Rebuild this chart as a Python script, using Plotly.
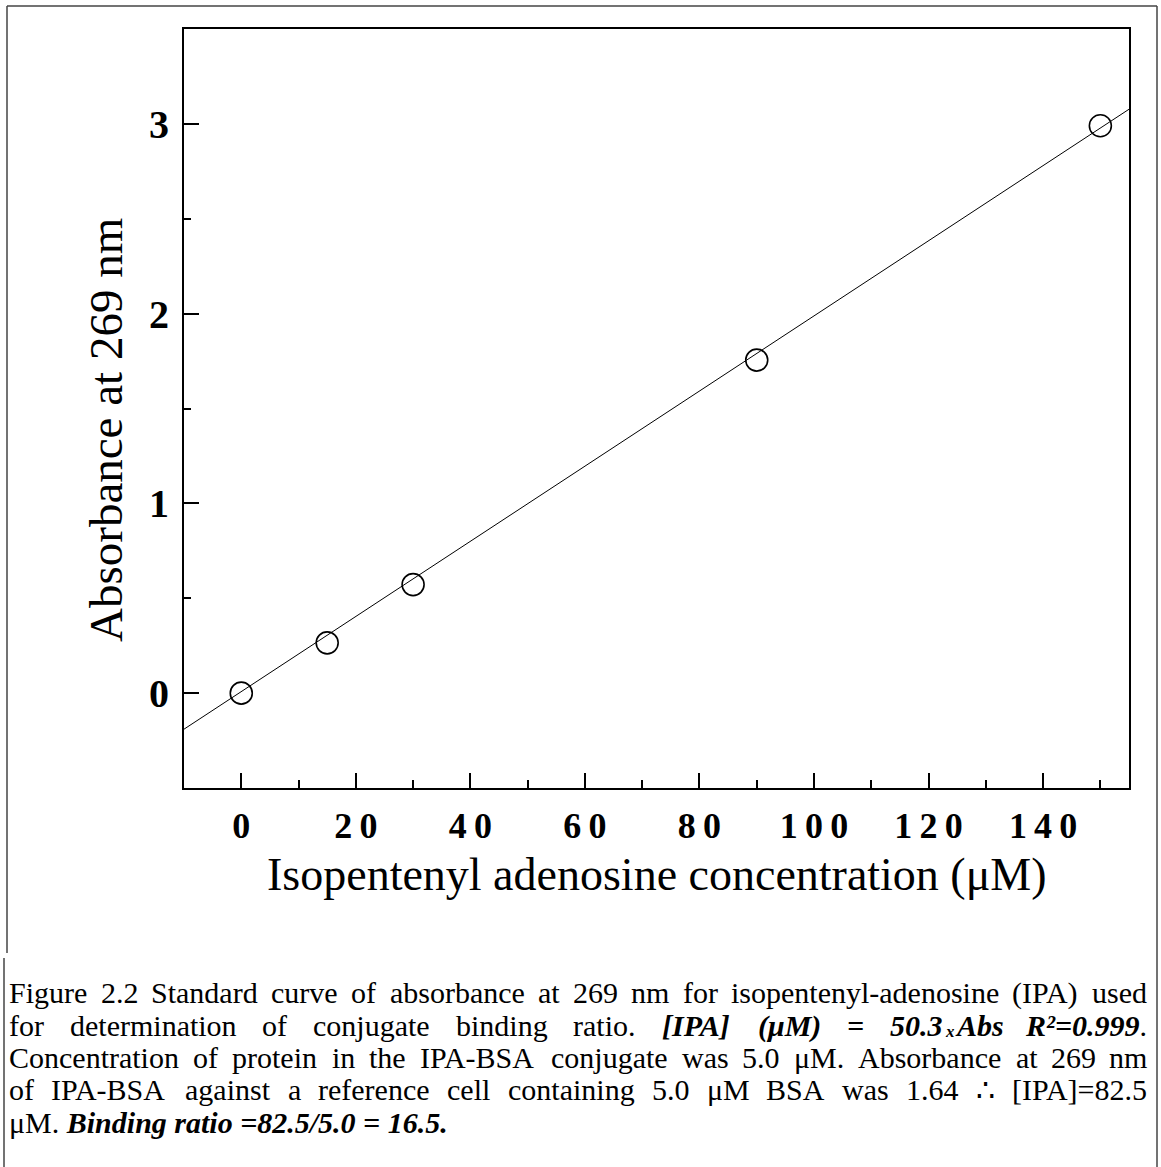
import plotly.graph_objects as go

# ---------------- data ----------------
conc_uM = [0, 15, 30, 90, 150]                 # Isopentenyl adenosine concentration (µM)
absorbance = [0.0, 0.265, 0.572, 1.755, 2.99]   # Absorbance at 269 nm
fit_slope = 0.0198                              # fitted line
fit_intercept = 0.008
fit_x_range = [-10, 155]

x_tick_vals = [0, 20, 40, 60, 80, 100, 120, 140]
x_tick_labels = ["0", "20", "40", "60", "80", "100", "120", "140"]
y_tick_vals = [0, 1, 2, 3]
y_tick_labels = ["0", "1", "2", "3"]

x_title = "Isopentenyl adenosine concentration (\u03bcM)"
y_title = "Absorbance at 269 nm"

# ---------------- geometry ----------------
W, H = 1161, 1167
L, R_, T, B = 184, 1129, 29, 788          # plot frame in pixels
PW, PH = R_ - L, B - T


def px(x):
    return (x - L) / PW


def py(y):
    return (B - y) / PH


FONT = "Liberation Serif"

fit_y = [fit_slope * x + fit_intercept for x in fit_x_range]

fig = go.Figure()
fig.add_trace(go.Scatter(x=fit_x_range, y=fit_y, mode="lines",
                         line=dict(color="black", width=1), showlegend=False,
                         hoverinfo="skip"))
fig.add_trace(go.Scatter(x=conc_uM, y=absorbance, mode="markers",
                         marker=dict(symbol="circle-open", size=22,
                                     line=dict(color="black", width=1.6), color="black"),
                         showlegend=False))

fig.update_xaxes(range=[-10, 155], showgrid=False, zeroline=False,
                 showline=True, mirror=True, linecolor="black", linewidth=2,
                 ticks="inside", ticklen=15, tickwidth=1.5, tickcolor="black",
                 tickvals=x_tick_vals,
                 ticktext=["\u2009".join(list(t)) for t in x_tick_labels],
                 tickfont=dict(family=FONT, size=36, color="black", weight="bold"),
                 ticklabelstandoff=5,
                 minor=dict(ticks="inside", ticklen=8, tickwidth=1.5, tickcolor="black",
                            tickvals=[10, 30, 50, 70, 90, 110, 130, 150]))
fig.update_yaxes(range=[-0.5, 3.5], showgrid=False, zeroline=False,
                 showline=True, mirror=True, linecolor="black", linewidth=2,
                 ticks="inside", ticklen=15, tickwidth=1.5, tickcolor="black",
                 tickvals=y_tick_vals, ticktext=y_tick_labels,
                 tickfont=dict(family=FONT, size=40, color="black", weight="bold"),
                 ticklabelstandoff=5,
                 minor=dict(ticks="inside", ticklen=7, tickwidth=1.5, tickcolor="black",
                            tickvals=[0.5, 1.5, 2.5]))

annotations = []
# axis titles
annotations.append(dict(x=px((L + R_) / 2), y=py(874), xref="paper", yref="paper",
                        text=x_title, showarrow=False, xanchor="center", yanchor="middle",
                        font=dict(family=FONT, size=46, color="black")))
annotations.append(dict(x=px(106), y=py(430), xref="paper", yref="paper",
                        text=y_title, showarrow=False, textangle=-90,
                        xanchor="center", yanchor="middle",
                        font=dict(family=FONT, size=47, color="black")))

# ---------------- caption (justified) ----------------
CAP_FS = 30
SUB_FS = 17
SUB_PAD = 2
CAP_LEFT, CAP_RIGHT = 8, 1148
cap_baselines = [1003, 1036, 1068, 1100, 1133]

RW = {" ": 250, "(": 333, ")": 333, "-": 333, ".": 250, "/": 278, "=": 564, "[": 333,
      "]": 333, ":": 278, ",": 250, "\u03bc": 520, "\u2234": 600, "\u00b2": 300,
      "A": 722, "B": 667, "C": 667, "D": 722, "E": 611, "F": 556, "G": 722, "H": 722,
      "I": 333, "J": 389, "K": 722, "L": 611, "M": 889, "N": 722, "O": 722, "P": 556,
      "Q": 722, "R": 667, "S": 556, "T": 611, "U": 722, "V": 722, "W": 944, "X": 722,
      "Y": 722, "Z": 611,
      "a": 444, "b": 500, "c": 444, "d": 500, "e": 444, "f": 333, "g": 500, "h": 500,
      "i": 278, "j": 278, "k": 500, "l": 278, "m": 778, "n": 500, "o": 500, "p": 500,
      "q": 500, "r": 333, "s": 389, "t": 278, "u": 500, "v": 500, "w": 722, "x": 500,
      "y": 500, "z": 444}
BIW = {" ": 250, "(": 333, ")": 333, ".": 250, "/": 278, "=": 570, "[": 333, "]": 333,
       "\u03bc": 576, "\u00b2": 300, "A": 667, "B": 667, "I": 389, "M": 889, "P": 611,
       "R": 667, "a": 500, "b": 500, "d": 500, "g": 500, "i": 278, "n": 556, "o": 500,
       "r": 389, "s": 389, "t": 278, "x": 500}


def seg_w(text, style):
    table = RW if style == "r" else BIW
    fs = SUB_FS if style == "bisub" else CAP_FS
    w = sum(table.get(c, 500) for c in text) / 1000 * fs
    return w + 2 * SUB_PAD if style == "bisub" else w


def seg_html(text, style):
    if style == "r":
        return text
    return f"<b><i>{text}</i></b>"


def words(s):
    return [[(w, "r")] for w in s.split()]


cap_line1 = words("Figure 2.2 Standard curve of absorbance at 269 nm for "
                  "isopentenyl-adenosine (IPA) used")
cap_line2 = words("for determination of conjugate binding ratio.") + [
    [("[IPA]", "bi")], [("(\u03bcM)", "bi")], [("=", "bi")],
    [("50.3", "bi"), ("x", "bisub"), ("Abs", "bi")],
    [("R\u00b2=0.999", "bi"), (".", "r")]]
cap_line3 = words("Concentration of protein in the IPA-BSA conjugate was 5.0 "
                  "\u03bcM. Absorbance at 269 nm")
cap_line4 = words("of IPA-BSA against a reference cell containing 5.0 \u03bcM BSA "
                  "was 1.64 \u2234 [IPA]=82.5")
cap_line5 = "\u03bcM. <b><i>Binding ratio =82.5/5.0 = 16.5.</i></b>"


def cap_ann(x, y, text, anchor, fs):
    return dict(x=px(x), y=py(y), xref="paper", yref="paper", text=text,
                showarrow=False, xanchor=anchor, yanchor="middle", borderpad=0,
                font=dict(family=FONT, size=fs, color="black"))


for line, base in zip([cap_line1, cap_line2, cap_line3, cap_line4], cap_baselines[:4]):
    widths = [sum(seg_w(t, s) for t, s in wd) for wd in line]
    gap = (CAP_RIGHT - CAP_LEFT - sum(widths)) / (len(line) - 1)
    xpos = CAP_LEFT
    yc = base - 0.34 * CAP_FS
    for i, (wd, w) in enumerate(zip(line, widths)):
        last = i == len(line) - 1
        if any(s == "bisub" for _, s in wd):
            sx = xpos
            for t, s in wd:
                if s == "bisub":
                    annotations.append(cap_ann(sx + SUB_PAD, base - 0.34 * SUB_FS + 1,
                                               seg_html(t, s), "left", SUB_FS))
                else:
                    annotations.append(cap_ann(sx, yc, seg_html(t, s), "left", CAP_FS))
                sx += seg_w(t, s)
        else:
            html = "".join(seg_html(t, s) for t, s in wd)
            annotations.append(cap_ann(CAP_RIGHT if last else xpos, yc, html,
                                       "right" if last else "left", CAP_FS))
        xpos += w + gap

annotations.append(cap_ann(CAP_LEFT, cap_baselines[4] - 0.34 * CAP_FS, cap_line5,
                           "left", CAP_FS))

# ---------------- page borders ----------------
border = dict(color="#444444", width=1.5)
shapes = [
    dict(type="line", xref="paper", yref="paper", x0=px(7), y0=py(6), x1=px(1157), y1=py(6), line=border),
    dict(type="line", xref="paper", yref="paper", x0=px(7), y0=py(6), x1=px(7), y1=py(953), line=border),
    dict(type="line", xref="paper", yref="paper", x0=px(4), y0=py(958), x1=px(4), y1=py(1167), line=border),
    dict(type="line", xref="paper", yref="paper", x0=px(1157), y0=py(6), x1=px(1157), y1=py(1167), line=border),
]

fig.update_layout(width=W, height=H, autosize=False,
                  margin=dict(l=L, r=W - R_, t=T, b=H - B, pad=0),
                  paper_bgcolor="white", plot_bgcolor="white",
                  annotations=annotations, shapes=shapes,
                  font=dict(family=FONT, color="black"))

fig.write_html("out.html")
